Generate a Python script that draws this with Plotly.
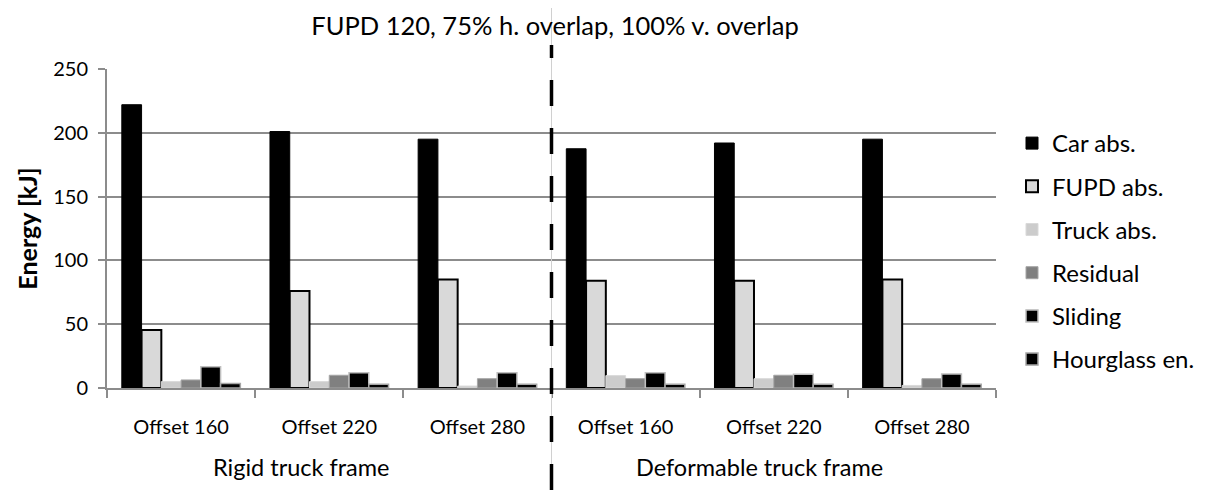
import plotly.graph_objects as go

groups = ["Rigid truck frame", "Deformable truck frame"]
offsets = ["Offset 160", "Offset 220", "Offset 280"]
x_cats = [g + "|" + o for g in groups for o in offsets]

series_names = ["Car abs.", "FUPD abs.", "Truck abs.", "Residual", "Sliding", "Hourglass en."]
car_abs = [222, 201, 195, 187.5, 192, 195]
fupd_abs = [45.5, 76, 85, 84, 84, 85]
truck_abs = [5, 5, 1.5, 9.7, 7.3, 2]
residual = [6.3, 10, 7.3, 7.3, 10, 7.3]
sliding = [16.7, 12, 12, 12, 10.7, 11]
hourglass = [3.5, 3, 3, 3, 3, 3]

values = [car_abs, fupd_abs, truck_abs, residual, sliding, hourglass]
fills = ["#000000", "#d9d9d9", "#cccccc", "#808080", "#000000", "#000000"]
edges = ["#000000", "#000000", "#d9d9d9", "#a6a6a6", "#bfbfbf", "#a6a6a6"]
edge_w = [1, 2, 1, 1, 1.5, 1.5]

FONT = "Lato"

fig = go.Figure()
for i, name in enumerate(series_names):
    fig.add_trace(go.Bar(
        x=x_cats, y=values[i], name=name,
        marker=dict(color=fills[i], line=dict(color=edges[i], width=edge_w[i])),
        legendgroup=name,
    ))

# dashed separator between the two truck frames
fig.add_shape(type="line", xref="x", yref="paper", x0=2.5, x1=2.5, y0=-0.32, y1=1.2,
              line=dict(color="#d0d0d0", width=1))
fig.add_shape(type="line", xref="x", yref="paper", x0=2.5, x1=2.5, y0=-0.32, y1=1.075,
              line=dict(color="black", width=3.5, dash="26px,22px"))

# group labels (sit a bit left of the middle category, as in the original)
for g, xc, dx in zip(groups, [x_cats[1], x_cats[4]], [-28, -14]):
    fig.add_annotation(x=xc, y=-0.248, xref="x", yref="paper", text=g, yanchor="middle",
                       xshift=dx, showarrow=False, font=dict(family=FONT, size=23.5, color="black"))

# page has an 8px body margin, so the figure is shrunk and shifted by that amount
fig.update_layout(
    width=1205, height=482,
    margin=dict(l=99, r=217, t=61, b=102),
    paper_bgcolor="white", plot_bgcolor="white",
    barmode="group", bargap=0.2, bargroupgap=0,
    title=dict(text="FUPD 120, 75% h. overlap, 100% v. overlap", xref="container", x=0.454,
               xanchor="center", yref="container", y=0.962, yanchor="middle",
               font=dict(family=FONT, size=25.5, color="black")),
    font=dict(family=FONT, color="black"),
    legend=dict(x=1.018, y=0.837, xanchor="left", yanchor="top", tracegroupgap=9,
                font=dict(family=FONT, size=24, color="black"), itemwidth=30),
    showlegend=True,
)
fig.update_yaxes(
    range=[0, 250], dtick=50, showgrid=True, gridcolor="#8c8c8c", gridwidth=2,
    showline=True, linecolor="#8c8c8c", linewidth=2, ticks="outside", ticklen=7,
    tickcolor="#8c8c8c", tickwidth=2, tickfont=dict(family=FONT, size=20, color="black"),
    ticklabelstandoff=6,
    title=dict(text="<b>Energy [kJ]</b>", font=dict(family=FONT, size=25, color="black"), standoff=8),
    zeroline=False,
)
fig.update_xaxes(
    type="category", tickvals=x_cats, ticktext=offsets * 2, tickson="boundaries",
    ticks="outside", ticklen=8, tickcolor="#8c8c8c", tickwidth=2,
    showline=True, linecolor="#8c8c8c", linewidth=2, showgrid=False,
    tickfont=dict(family=FONT, size=20, color="black"), ticklabelstandoff=20,
)

fig.write_html("out.html")
